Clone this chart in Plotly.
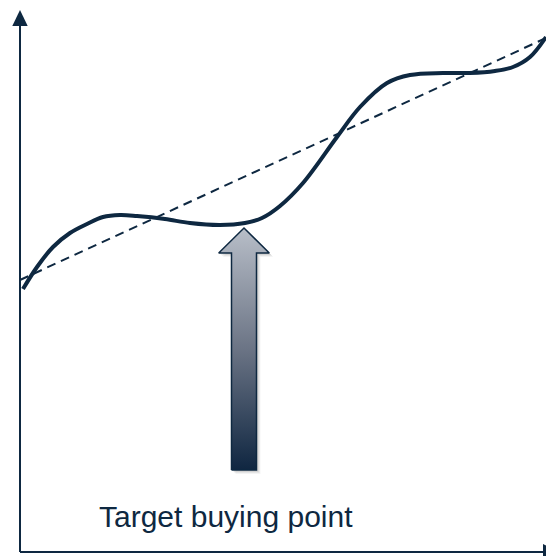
import plotly.graph_objects as go

NAVY = "#0e2841"

# Price curve (x = time, y = price)
curve_x = [3, 17, 33, 50, 67, 83, 100, 117, 145, 170, 200, 225, 242, 260, 283, 317, 340, 367, 390, 423, 450, 475, 493, 510, 526]
curve_y = [263, 285, 305, 319, 328, 335, 337, 336, 333, 329, 327, 329, 334, 346, 369, 415, 445, 469, 477, 479, 479, 481, 485, 495, 515]

# Trend line end points
trend_x = [0, 526]
trend_y = [272, 514]

# Target buying point arrow
target_x = 224
arrow_tip = 324
arrow_base = 82
label = "Target buying point"

W, H = 546, 556
X0, Y0 = 20, 552  # pixel position of origin

fig = go.Figure()

# arrow polygon
shaft_half = 12.5
head_half = 25.3
head_len = 25
ax = [target_x - shaft_half, target_x - shaft_half, target_x - head_half, target_x,
      target_x + head_half, target_x + shaft_half, target_x + shaft_half, target_x - shaft_half]
ay = [arrow_base, arrow_tip - head_len, arrow_tip - head_len, arrow_tip,
      arrow_tip - head_len, arrow_tip - head_len, arrow_base, arrow_base]

# soft shadow
for off, op in [(4, 0.06), (3, 0.08), (2, 0.10)]:
    fig.add_trace(go.Scatter(x=[v + off for v in ax], y=[v - off for v in ay], mode="lines",
                             fill="toself", fillcolor=f"rgba(60,60,60,{op})",
                             line=dict(width=0), hoverinfo="skip", showlegend=False))

fig.add_trace(go.Scatter(
    x=ax, y=ay, mode="lines", fill="toself",
    fillgradient=dict(type="vertical", start=arrow_base, stop=arrow_tip,
                      colorscale=[[0, "#0f2641"], [0.5, "#6b7485"], [1, "#b8bec8"]]),
    line=dict(color=NAVY, width=1.5), hoverinfo="skip", showlegend=False))

# trend line
fig.add_trace(go.Scatter(x=trend_x, y=trend_y, mode="lines",
                         line=dict(color=NAVY, width=2, dash="9px,6px"),
                         hoverinfo="skip", showlegend=False))

# curve
fig.add_trace(go.Scatter(x=curve_x, y=curve_y, mode="lines",
                         line=dict(color=NAVY, width=4, shape="spline", smoothing=1.0),
                         hoverinfo="skip", showlegend=False))

# axes with arrows
shapes = [
    dict(type="line", x0=0, x1=0, y0=0, y1=552 - 26, line=dict(color=NAVY, width=2), xref="x", yref="y"),
    dict(type="path", path=f"M -7.7,{552-26} L 7.7,{552-26} L 0,{552-10} Z",
         fillcolor=NAVY, line=dict(color=NAVY, width=0), xref="x", yref="y"),
    dict(type="line", x0=0, x1=526, y0=0, y1=0, line=dict(color=NAVY, width=2), xref="x", yref="y"),
    dict(type="path", path=f"M 523,{552-544} L 523,{552-560} L 540,0 Z",
         fillcolor=NAVY, line=dict(color=NAVY, width=0), xref="x", yref="y"),
]

fig.add_annotation(x=target_x - 18, y=552 - 516, text=label, showarrow=False,
                   font=dict(family="Liberation Sans, Arial", size=30, color=NAVY),
                   xanchor="center", yanchor="middle")

fig.update_layout(
    width=W, height=H, margin=dict(l=0, r=0, t=0, b=0),
    paper_bgcolor="white", plot_bgcolor="white",
    xaxis=dict(range=[-X0, W - X0], visible=False, fixedrange=True),
    yaxis=dict(range=[Y0 - H, Y0], visible=False, fixedrange=True),
    shapes=shapes, showlegend=False,
)

fig.write_html("out.html", config={"displayModeBar": False},
               post_script="document.body.style.margin='0';document.body.style.overflow='hidden';")
